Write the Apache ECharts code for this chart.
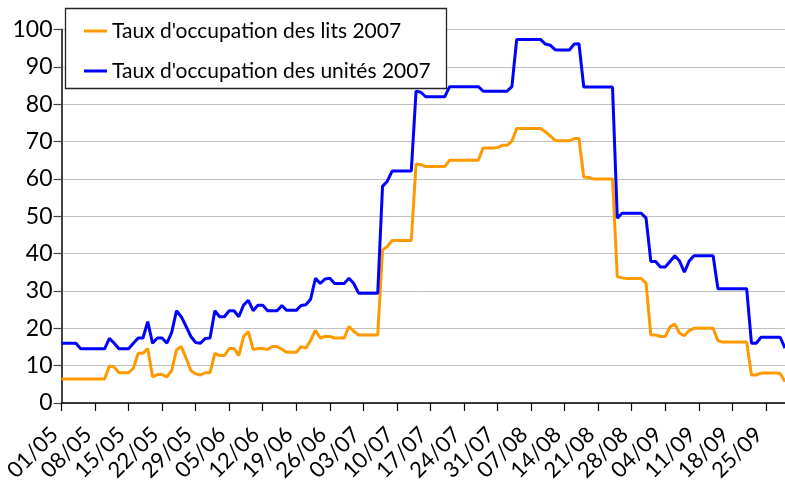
<!DOCTYPE html>
<html><head><meta charset="utf-8">
<script src="https://cdn.jsdelivr.net/npm/echarts@6/dist/echarts.min.js"></script>
<style>html,body{margin:0;padding:0;background:#fff}#c{width:785px;height:481px}</style>
</head><body><div id="c"></div>
<script>
const seriesNames = ["Taux d'occupation des lits 2007", "Taux d'occupation des unités 2007"];
// day categories 01/05 .. 29/09 (month, number of days shown)
const monthSpans = [["05", 31], ["06", 30], ["07", 31], ["08", 31], ["09", 29]];
const categories = [];
monthSpans.forEach(([m, n]) => { for (let d = 1; d <= n; d++) categories.push((d < 10 ? "0" : "") + d + "/" + m); });
const yTicks = [0, 10, 20, 30, 40, 50, 60, 70, 80, 90, 100];

const lits = [
  6.4, 6.4, 6.4, 6.4, 6.4, 6.4, 6.4, 6.4, 6.4, 6.4,
  9.9, 9.6, 8.1, 8.1, 8.1, 9.3, 13.3, 13.3, 14.6, 7.0,
  7.6, 7.6, 7.0, 8.7, 14.2, 15.1, 12.0, 8.7, 7.8, 7.5,
  8.1, 8.1, 13.3, 12.7, 12.7, 14.6, 14.6, 12.7, 17.8, 19.1,
  14.3, 14.6, 14.6, 14.3, 15.1, 15.1, 14.4, 13.6, 13.6, 13.6,
  15.1, 14.7, 16.8, 19.5, 17.4, 17.8, 17.8, 17.4, 17.4, 17.4,
  20.5, 19.2, 18.2, 18.2, 18.2, 18.2, 18.2, 41.0, 41.9, 43.5,
  43.5, 43.5, 43.5, 43.5, 64.0, 63.8, 63.3, 63.3, 63.3, 63.3,
  63.3, 65.0, 65.0, 65.0, 65.0, 65.0, 65.0, 65.0, 68.3, 68.3,
  68.3, 68.4, 69.0, 69.0, 70.1, 73.5, 73.5, 73.5, 73.5, 73.5,
  73.5, 72.6, 71.5, 70.3, 70.2, 70.2, 70.2, 70.8, 70.8, 60.5,
  60.4, 60.0, 60.0, 60.0, 60.0, 60.0, 33.8, 33.5, 33.3, 33.3,
  33.3, 33.3, 32.1, 18.2, 18.2, 17.8, 17.8, 20.4, 21.1, 18.7,
  18.0, 19.4, 20.0, 20.0, 20.0, 20.0, 20.0, 16.7, 16.3, 16.3,
  16.3, 16.3, 16.3, 16.3, 7.5, 7.5, 8.0, 8.0, 8.0, 8.0,
  7.9, 5.7
];
const unites = [
  16.0, 16.0, 16.0, 16.0, 14.5, 14.5, 14.5, 14.5, 14.5, 14.5,
  17.3, 16.0, 14.5, 14.5, 14.5, 16.0, 17.4, 17.4, 21.8, 16.0,
  17.4, 17.4, 16.0, 18.9, 24.7, 23.1, 20.5, 17.8, 16.2, 16.0,
  17.3, 17.4, 24.7, 23.1, 23.1, 24.7, 24.7, 23.1, 26.2, 27.5,
  24.7, 26.2, 26.2, 24.7, 24.7, 24.7, 26.1, 24.8, 24.8, 24.8,
  26.1, 26.3, 27.8, 33.4, 32.0, 33.2, 33.4, 32.0, 32.0, 32.0,
  33.4, 32.0, 29.4, 29.4, 29.4, 29.4, 29.4, 58.0, 59.4, 62.1,
  62.1, 62.1, 62.1, 62.1, 83.5, 83.2, 82.0, 82.0, 82.0, 82.0,
  82.0, 84.7, 84.7, 84.7, 84.7, 84.7, 84.7, 84.7, 83.5, 83.5,
  83.5, 83.5, 83.5, 83.5, 84.7, 97.3, 97.3, 97.3, 97.3, 97.3,
  97.3, 96.1, 95.8, 94.6, 94.5, 94.5, 94.5, 96.1, 96.2, 84.6,
  84.6, 84.6, 84.6, 84.6, 84.6, 84.6, 49.5, 50.8, 50.8, 50.8,
  50.8, 50.8, 49.5, 37.9, 37.9, 36.4, 36.4, 37.9, 39.4, 38.0,
  35.0, 38.0, 39.4, 39.4, 39.4, 39.4, 39.4, 30.6, 30.6, 30.6,
  30.6, 30.6, 30.6, 30.6, 16.0, 16.0, 17.6, 17.6, 17.6, 17.6,
  17.6, 14.7
];

const FONT = 'Lato';
const chart = echarts.init(document.getElementById('c'), null, { renderer: 'canvas' });
chart.setOption({
  animation: false,
  backgroundColor: '#fff',
  grid: { left: 61.5, right: 0, top: 29.5, bottom: 78, containLabel: false, outerBoundsMode: 'none' },
  graphic: [{
    type: 'rect', z: 3, silent: true,
    shape: { x: 65.5, y: 8.5, width: 381, height: 80 },
    style: { fill: '#fff', stroke: '#222', lineWidth: 1.3 }
  }],
  legend: {
    orient: 'vertical', left: 84, top: 20.5, padding: 0, itemGap: 19,
    itemWidth: 23, itemHeight: 3, icon: 'rect',
    data: seriesNames,
    textStyle: { fontFamily: FONT, fontSize: 21, color: '#000', lineHeight: 20 }
  },
  xAxis: {
    type: 'category', data: categories, boundaryGap: false,
    axisLine: { lineStyle: { color: '#000', width: 1.5 } },
    axisTick: { interval: 6, length: 8, lineStyle: { color: '#000', width: 1.2 } },
    axisLabel: {
      interval: 6, rotate: 45, margin: 21, padding: [0, 10, 0, 0],
      fontFamily: FONT, fontSize: 22, color: '#000'
    },
    splitLine: { show: false }
  },
  yAxis: {
    type: 'value', min: yTicks[0], max: yTicks[yTicks.length - 1], interval: 10,
    axisLine: { show: true, lineStyle: { color: '#444', width: 2 } },
    axisTick: { show: true, length: 8, lineStyle: { color: '#444', width: 1.2 } },
    axisLabel: { margin: 9, fontFamily: FONT, fontSize: 23, color: '#000' },
    splitLine: { lineStyle: { color: '#c0c0c0', width: 1 } }
  },
  series: [
    { name: seriesNames[0], type: 'line', data: lits, showSymbol: false, symbol: 'none',
      lineStyle: { color: '#FF9900', width: 3 }, itemStyle: { color: '#FF9900' }, z: 5 },
    { name: seriesNames[1], type: 'line', data: unites, showSymbol: false, symbol: 'none',
      lineStyle: { color: '#0000FF', width: 3 }, itemStyle: { color: '#0000FF' }, z: 5 }
  ]
});
</script></body></html>
